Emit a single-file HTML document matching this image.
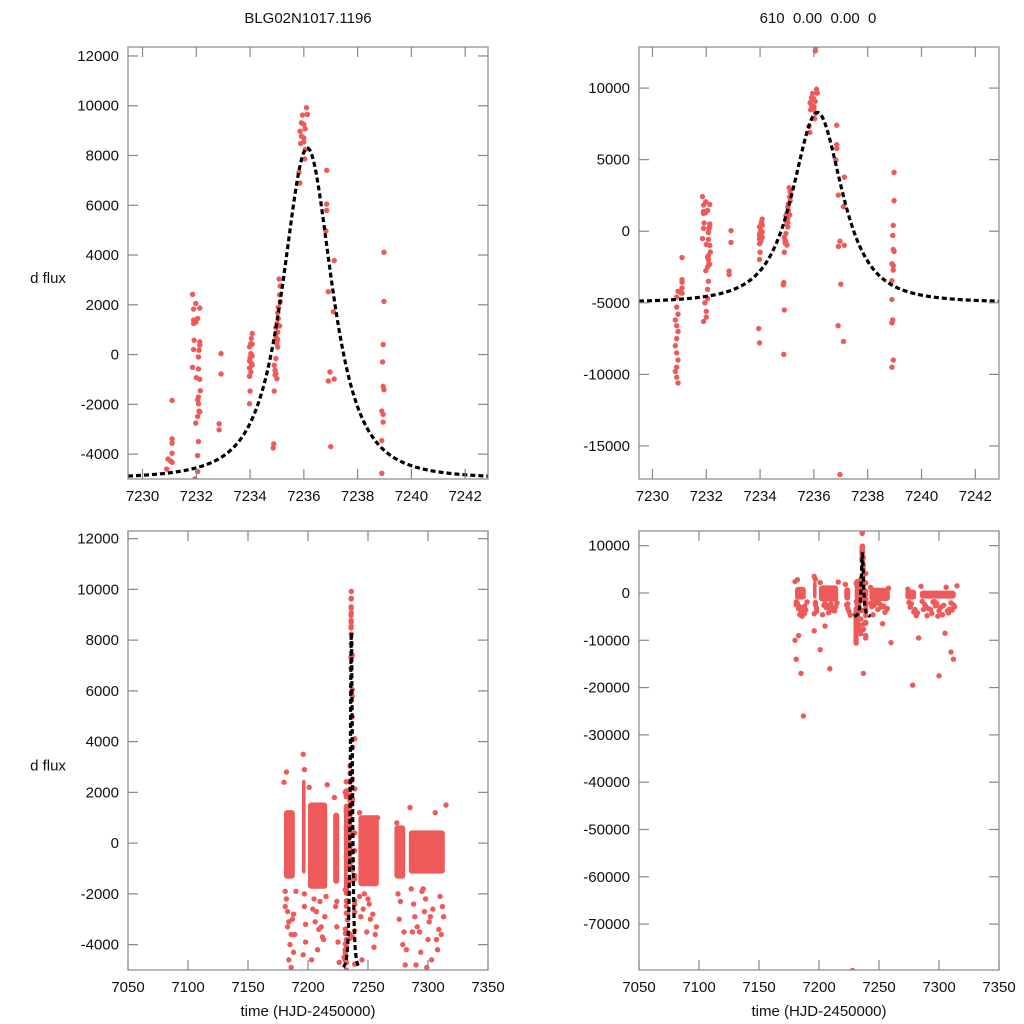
<!DOCTYPE html>
<html><head><meta charset="utf-8"><style>
html,body{margin:0;background:#fff;overflow:hidden;width:1024px;height:1024px}
svg{display:block;font-family:"Liberation Sans",sans-serif}
</style></head><body>
<svg id="chart" width="1024" height="1024" viewBox="0 0 1024 1024"></svg>
<script>
// ---- data ----
const modelParams = [7236.13, 1.41, 8300, -5000, 1.5]; // t0, width, peak flux, baseline, shape exponent
const modelRange = [7229.4, 7242.9];
const pointTimes = [
 7231.1,7231.1,7231.1,7231.1,7231.05,7231.1,
 7231.86,7231.98,7231.9,7232.13,7231.9,7232.05,7231.9,7231.98,7232.13,7232.13,7231.92,7232.1,7231.9,7232.08,7231.86,7232.08,7232.0,7232.13,7232.15,7232.08,7232.05,7232.08,7232.1,7232.13,7232.05,7231.98,7232.08,7232.05,
 7232.92,7232.92,7232.85,7232.85,
 7234.08,7234.05,7234.03,7234.08,7233.98,7234.03,7234.08,7234.0,7233.98,7234.05,7233.98,7234.08,7234.03,7233.98,7234.0,7233.98,
 7235.08,7235.12,7235.1,7235.12,7235.05,7235.03,7235.05,7235.0,7235.1,7234.96,7235.03,7234.96,7235.03,7235.0,7235.03,7234.96,7234.9,7234.93,7234.96,7234.93,7235.0,7234.9,7234.88,7234.86,
 7236.1,7235.95,7236.13,7235.91,7236.0,7235.86,7236.05,7235.91,7236.0,7235.88,7236.0,7236.06,7236.03,7235.82,7235.85,7236.05,7236.08,
 7236.85,7236.85,7236.85,7236.82,7237.13,7236.91,7237.1,7236.97,7236.91,7237.13,7236.9,7237.1,
 7238.98,7238.98,7238.95,7238.93,7238.95,7238.98,7238.9,7238.95,7238.95,7238.9,7238.9,7238.93,7238.9,7238.95,7238.9,
 7230.9,7230.95,7230.85,7230.9,7230.95,7230.9,7230.85,7230.9,7230.95,7230.9,7230.85,7230.9,7230.95,7230.9,7230.95,
 7231.95,7232.0,7231.9,7232.05,7232.0,
 7233.95,7233.98,7234.9,7234.88,7236.97,7237.0
];
const pointFlux = [
 -1841,-3387,-3562,-3965,-4287,-4330,
 2419,2056,1828,1868,1384,1451,1250,1300,510,376,578,175,202,-94,-511,-578,-927,-995,-1452,-1707,-1814,-1976,-2271,-2300,-2486,-2755,-3494,-4059,
 40,-780,-2782,-3024,
 847,650,444,420,309,40,-50,-120,-255,-350,-538,-420,-699,-874,-1465,-1976,
 3037,2755,2400,2124,1900,1680,1450,1250,1150,1089,900,712,600,444,300,-161,-430,-632,-766,-820,-968,-1465,-3588,-3750,
 9919,9623,9650,9314,9250,8978,9072,8776,8709,8481,8550,8239,7862,7325,6895,12600,12900,
 7405,6048,5793,4973,3777,2527,1720,-699,-1062,-981,-6600,-7700,
 4113,2137,403,-296,-1277,-1411,-2271,-2406,-2715,-3454,-4771,-6200,-6400,-9000,-9500,
 -5300,-5800,-6200,-6600,-7000,-7500,-8000,-8500,-9000,-9500,-9800,-10200,-10600,-4600,-4200,
 -5000,-5600,-6300,-4700,-6000,
 -6800,-7800,-5500,-8600,-17000,-3700
];
// dense clusters for full season: start, end, high flux, low flux
const bandStart = [7180,7195,7200,7221,7230,7242,7272,7284];
const bandEnd   = [7189,7198,7216,7226,7233,7259,7281,7314];
const bandHigh  = [1300,2500,1600,1200,1400,1100,700,500];
const bandLow   = [-1400,-1200,-1800,-1600,-1800,-1700,-1400,-1200];
const scatterTimes = [7180,7181,7183,7185,7186,7188,7189,7190,7182,7184,7187,7196,7197,7196,7198,7201,7204,7206,7208,7210,7212,7214,7216,7203,7209,7222,7224,7226,7223,7231,7232,7230,7243,7246,7249,7252,7255,7258,7245,7250,7257,7274,7276,7279,7281,7285,7288,7291,7294,7297,7300,7303,7306,7309,7312,7315,7290,7296,7302,7308,7287,7299,7311,7180,7181,7185,7187,7228,7201,7209,7260,7278,7300,7310,7312,
 7181,7182,7183,7184,7186,7188,7197,7197,7198,7205,7207,7211,7213,7215,7224,7225,7243,7244,7247,7251,7254,7256,7275,7277,7280,7282,7286,7289,7293,7295,7298,7301,7304,7307,7310,7313,7183,7196,7205,7253,7283,7305];
const scatterFlux = [2400,-2500,-3300,-4000,-4900,-2800,-3600,-1900,2800,-4600,-3000,3500,2900,-4400,-3200,2200,-2600,-3100,-4200,-2300,-3700,-2900,2300,-4600,-3400,1800,-3300,-4700,-2500,2000,-3800,-4500,1200,-2600,-3500,-3000,-4100,1000,-4600,-2200,-3300,800,-3000,-4000,-4800,1400,-2400,-3300,-4300,-2700,-3800,-4600,1200,-3400,-2500,1500,-4800,-1800,-2900,-4200,-3500,-4900,-3600,-10000,-14000,-17000,-26000,-79800,-12000,-16000,-10500,-19500,-17500,-12500,-14000,
 -1900,-2200,-2700,-3100,-3600,-4300,-2000,-2500,-3900,-2200,-2700,-3300,-3800,-2100,-2300,-3900,-2100,-2900,-2000,-2400,-2800,-3600,-2000,-2300,-3500,-4200,-1800,-2900,-3500,-1900,-2200,-3100,-2600,-3800,-2100,-2900,-9000,-8000,-7000,-6500,-9500,-8500];
// tick labels
const xTicksTop = [7230,7232,7234,7236,7238,7240,7242];
const xTicksBot = [7050,7100,7150,7200,7250,7300,7350];
const yTicksTL = [-4000,-2000,0,2000,4000,6000,8000,10000,12000];
const yTicksTR = [-15000,-10000,-5000,0,5000,10000];
const yTicksBL = [-4000,-2000,0,2000,4000,6000,8000,10000,12000];
const yTicksBR = [-70000,-60000,-50000,-40000,-30000,-20000,-10000,0,10000];

// ---- drawing ----
const NS="http://www.w3.org/2000/svg";
const svg=document.getElementById('chart');
function mk(tag,attrs,parent){const e=document.createElementNS(NS,tag);for(const k in attrs)e.setAttribute(k,attrs[k]);(parent||svg).appendChild(e);return e;}
function model(t){const p=modelParams;const d=(t-p[0])/p[1];return p[3]+(p[2]-p[3])/Math.pow(1+d*d,p[4]);}
const RED="#ee5a5a";
function panel(id,box,xd,yd,xt,yt,showYLabel,showXLabel,full){
  const [x0,y0,x1,y1]=box;
  const sx=t=>x0+(t-xd[0])/(xd[1]-xd[0])*(x1-x0);
  const sy=f=>y1-(f-yd[0])/(yd[1]-yd[0])*(y1-y0);
  const g=mk('g',{});
  
  
  const cp=mk('clipPath',{id:'c'+id},g);mk('rect',{x:x0,y:y0,width:x1-x0,height:y1-y0},cp);
  const plot=mk('g',{'clip-path':'url(#c'+id+')'},g);
  if(full){
    for(let i=0;i<bandStart.length;i++){
      const r=mk('rect',{x:sx(bandStart[i]),y:sy(bandHigh[i]),width:Math.max(2,sx(bandEnd[i])-sx(bandStart[i])),height:sy(bandLow[i])-sy(bandHigh[i]),fill:RED,rx:3},plot);
      
      
    }
    for(let i=0;i<scatterTimes.length;i++){
      const c=mk('circle',{cx:sx(scatterTimes[i]),cy:sy(scatterFlux[i]),r:2.7,fill:RED},plot);
      
      
    }
  }
  for(let i=0;i<pointTimes.length;i++){
    const c=mk('circle',{cx:sx(pointTimes[i]),cy:sy(pointFlux[i]),r:2.7,fill:RED},plot);
    
    
  }
  const a=Math.max(xd[0],modelRange[0]), b=Math.min(xd[1],modelRange[1]);
  let d='';const n=600;
  for(let i=0;i<=n;i++){const t=a+(b-a)*i/n;d+=(i?'L':'M')+sx(t).toFixed(2)+','+sy(model(t)).toFixed(2);}
  const m=mk('path',{d:d,fill:'none',stroke:'#000','stroke-width':3.2,'stroke-dasharray':'5,3'},plot);
  
  
  const fr=mk('rect',{x:x0,y:y0,width:x1-x0,height:y1-y0,fill:'none',stroke:'#888','stroke-width':1.2},g);
  
  
  xt.forEach(v=>{const X=sx(v);
    mk('line',{x1:X,x2:X,y1:y1,y2:y1-10,stroke:'#888','stroke-width':1.2},g);
    mk('line',{x1:X,x2:X,y1:y0,y2:y0+10,stroke:'#888','stroke-width':1.2},g);
    const tx=mk('text',{x:X,y:y1+22,'text-anchor':'middle','font-size':15,fill:'#111'},g);tx.textContent=v;
    
    
  });
  yt.forEach(v=>{const Y=sy(v);
    mk('line',{x1:x0,x2:x0+10,y1:Y,y2:Y,stroke:'#888','stroke-width':1.2},g);
    mk('line',{x1:x1,x2:x1-10,y1:Y,y2:Y,stroke:'#888','stroke-width':1.2},g);
    const tx=mk('text',{x:x0-9,y:Y+5,'text-anchor':'end','font-size':15,fill:'#111'},g);tx.textContent=v;
    
    
  });
  if(showYLabel){const t=mk('text',{x:48,y:(y0+y1)/2+20,'text-anchor':'middle','font-size':15,fill:'#111'},g);t.textContent='d flux';
    
    }
  if(showXLabel){const t=mk('text',{x:(x0+x1)/2,y:1016,'text-anchor':'middle','font-size':15,fill:'#111'},g);t.textContent='time (HJD-2450000)';
    
    }
}
panel('panel-top-left',[128,47,488,479],[7229.46,7242.85],[-5000,12360],xTicksTop,yTicksTL,true,false,false);
panel('panel-top-right',[639,47,999,479],[7229.5,7242.88],[-17310,12870],xTicksTop,yTicksTR,false,false,false);
panel('panel-bottom-left',[128,531,488,970],[7050,7350],[-5000,12300],xTicksBot,yTicksBL,true,true,true);
panel('panel-bottom-right',[639,531,999,970],[7050,7350],[-79700,13100],xTicksBot,yTicksBR,false,true,true);
const t1=mk('text',{x:308,y:23,'text-anchor':'middle','font-size':15,fill:'#111'});t1.textContent='BLG02N1017.1196';


const t2=mk('text',{x:818,y:23,'text-anchor':'middle','font-size':15,fill:'#111'});t2.textContent='610\u00a0\u00a00.00\u00a0\u00a00.00\u00a0\u00a00';


</script>
</body></html>
